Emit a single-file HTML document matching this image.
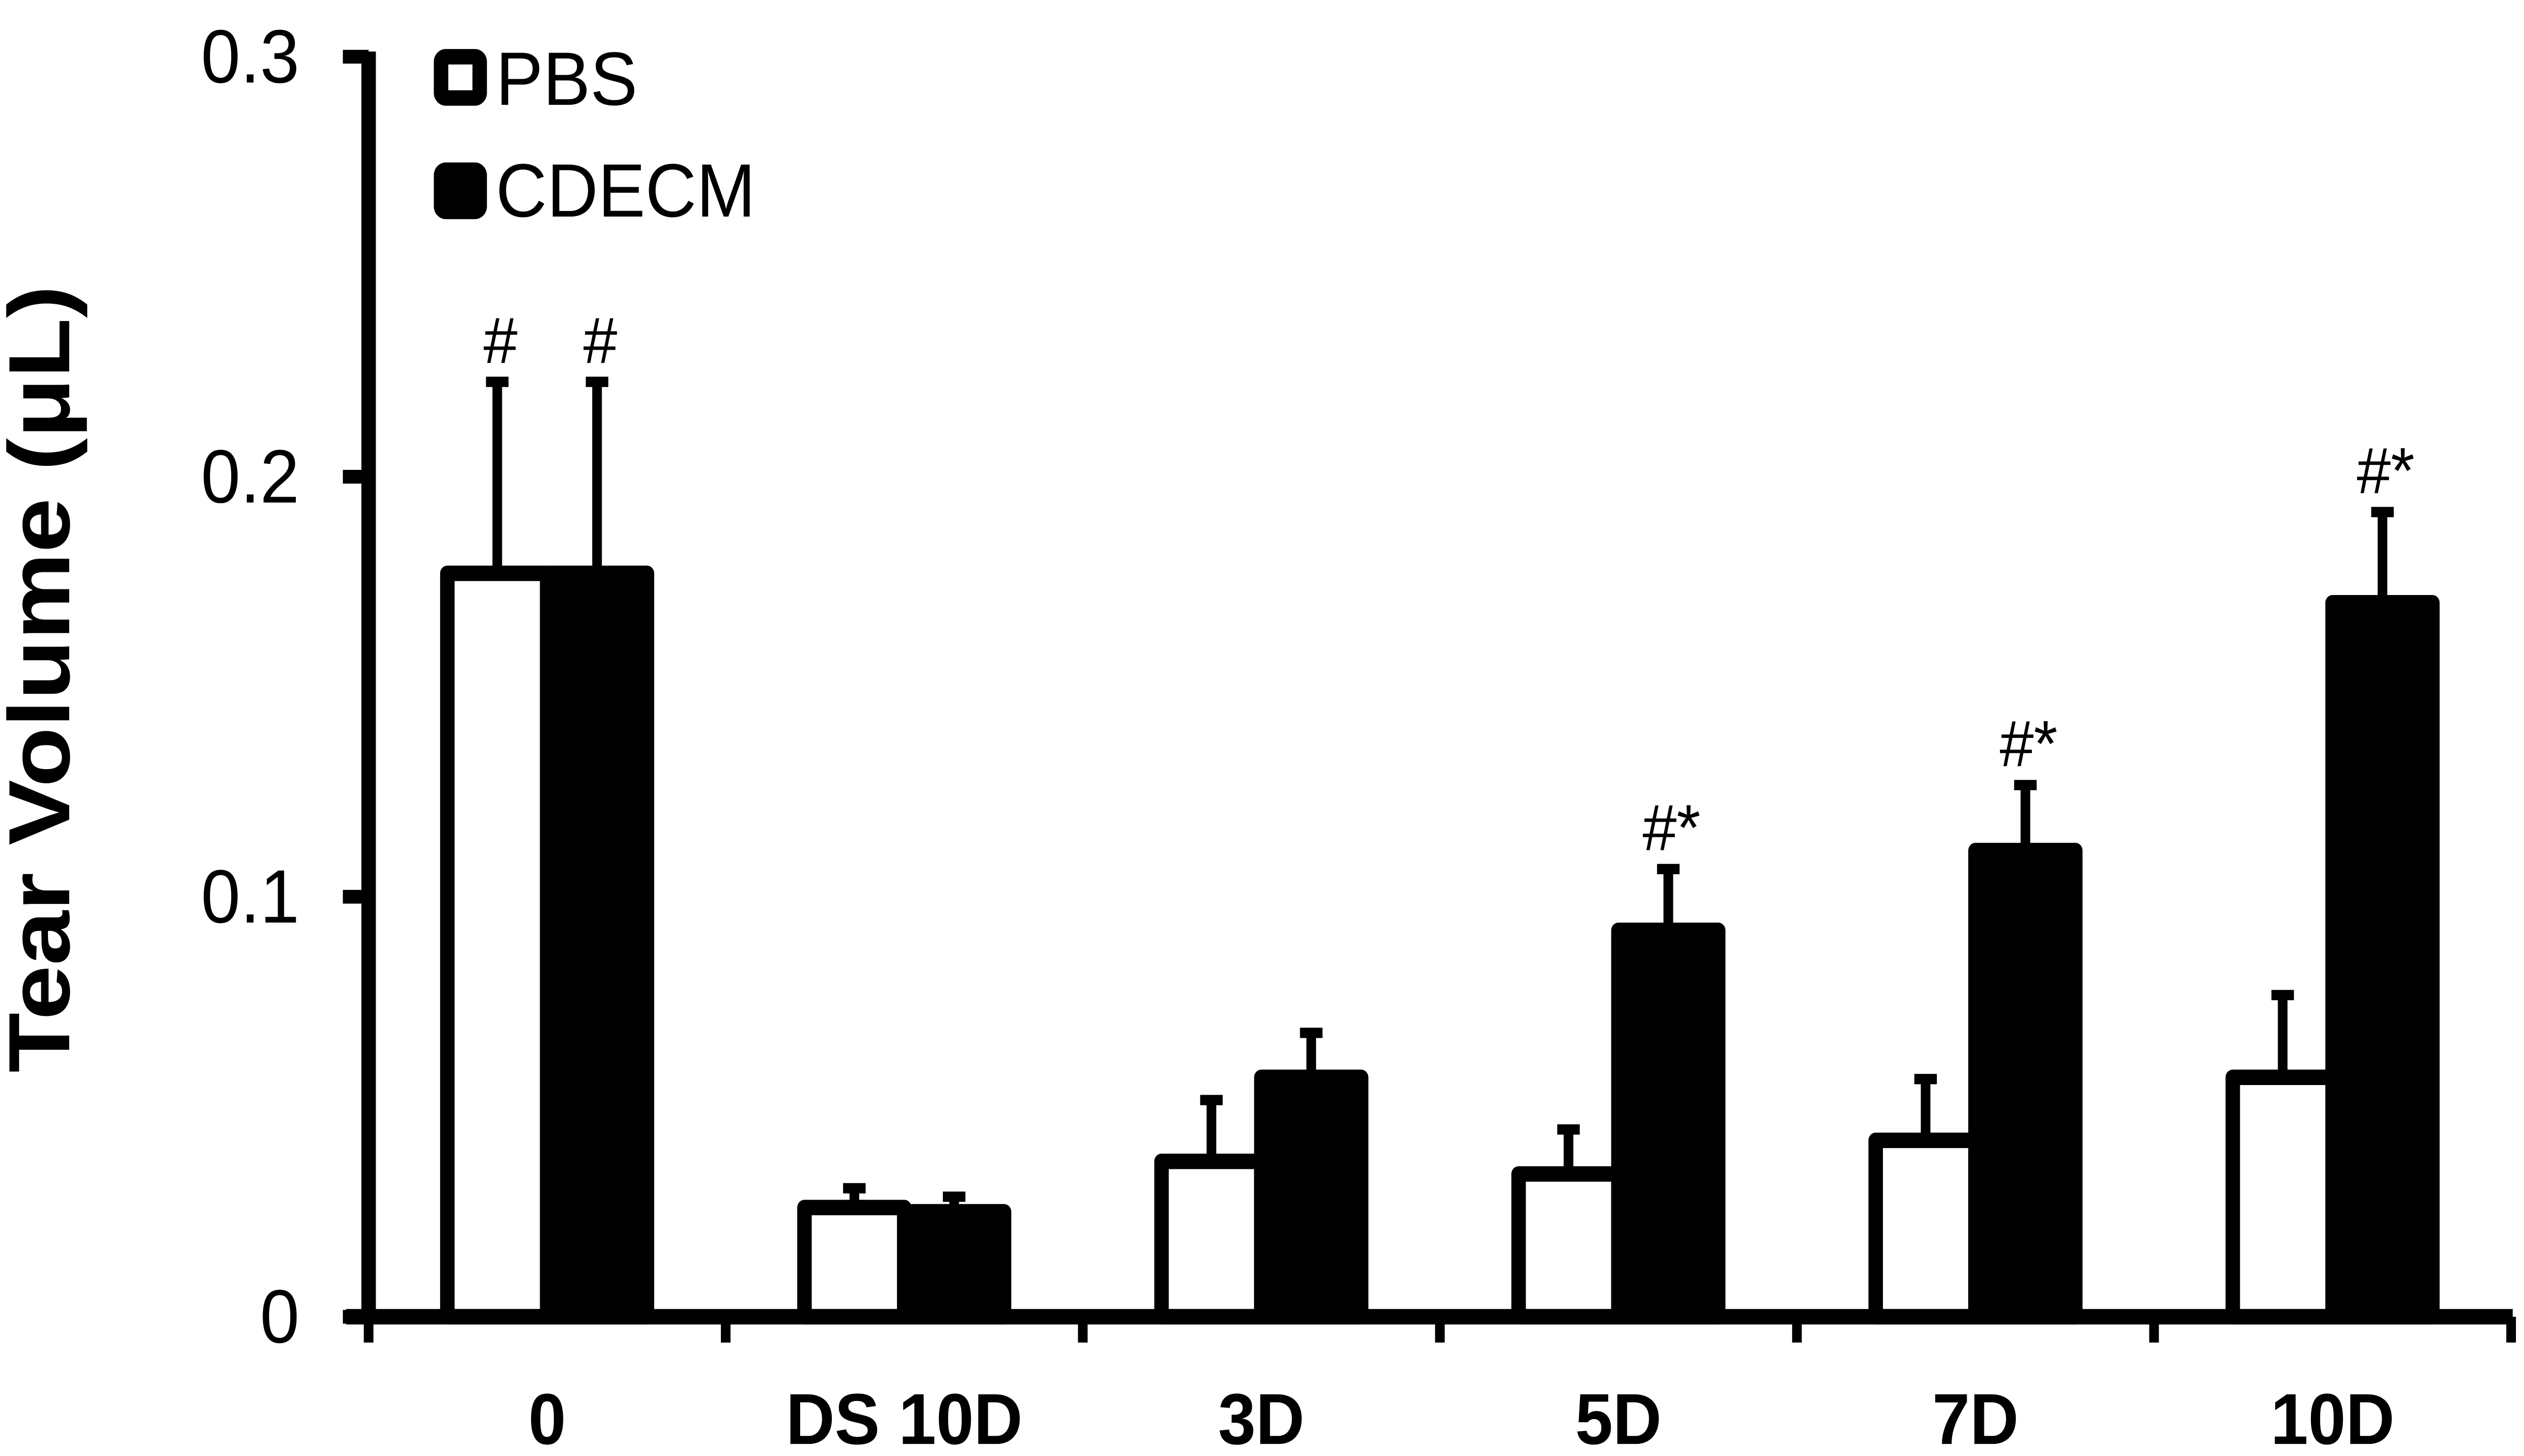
<!DOCTYPE html>
<html><head><meta charset="utf-8"><style>
html,body{margin:0;padding:0;background:#fff;width:100%;height:100%;overflow:hidden}
svg{display:block;overflow:hidden;width:100vw;height:100vh}
text{font-family:"Liberation Sans",Arial,sans-serif;fill:#000}
</style></head><body>
<svg id="chart" viewBox="0 0 1568 847" preserveAspectRatio="none" xmlns="http://www.w3.org/2000/svg">
<g id="bars"></g>
<g id="axes"></g>
<text transform="translate(43,395) rotate(-90)" text-anchor="middle" font-size="54" font-weight="bold" textLength="458" lengthAdjust="spacingAndGlyphs">Tear Volume (μL)</text>
<g>
<rect x="274" y="33" width="24" height="24" rx="3" fill="#fff" stroke="#000" stroke-width="9"/>
<text x="308" y="61" font-size="44">PBS</text>
<rect x="274" y="99" width="24" height="24" rx="3" fill="#000" stroke="#000" stroke-width="9"/>
<text x="308" y="126" font-size="44">CDECM</text>
</g>
</svg>
<script>
const categories = ["0","DS 10D","3D","5D","7D","10D"];
const pbsValues = [0.177,0.026,0.037,0.034,0.042,0.057];
const pbsErrors = [0.046,0.005,0.015,0.011,0.015,0.020];
const cdecmValues = [0.177,0.025,0.057,0.092,0.111,0.170];
const cdecmErrors = [0.046,0.004,0.011,0.015,0.016,0.022];
const pbsMarks = ["#","","","","",""];
const cdecmMarks = ["#","","","#*","#*","#*"];
const yTicks = [0,0.1,0.2,0.3];
const yTickLabels = ["0","0.1","0.2","0.3"];

const NS="http://www.w3.org/2000/svg";
const X0=229, X1=1560, Y0=766, Y1=33, YMAX=0.3;
const band=(X1-X0)/categories.length;
const xc=i=>X0+band*(i+0.5);
const y=v=>Y0-(v/YMAX)*(Y0-Y1);
const BW=66;
function mk(tag,attrs,parent){const e=document.createElementNS(NS,tag);for(const k in attrs)e.setAttribute(k,attrs[k]);parent.appendChild(e);return e;}
const bars=document.getElementById('bars'), axes=document.getElementById('axes');

categories.forEach((c,i)=>{
  const series=[[pbsValues[i],pbsErrors[i],'#fff',-BW,pbsMarks[i],'pbs'],[cdecmValues[i],cdecmErrors[i],'#000',0,cdecmMarks[i],'cdecm']];
  series.forEach(([v,e,fill,off,mark,nm])=>{
    const bx=xc(i)+off+ (off<0?4:0), w=BW-4;
    const cx=bx+w/2;
    const l=mk('line',{x1:cx,x2:cx,y1:y(v),y2:y(v+e),stroke:'#000','stroke-width':6},bars);
    
    
    const cap=mk('line',{x1:cx-7,x2:cx+7,y1:y(v+e)+1,y2:y(v+e)+1,stroke:'#000','stroke-width':6},bars);
    
    
    const r=mk('rect',{x:bx,y:y(v),width:w,height:Y0-y(v),fill:fill,stroke:'#000','stroke-width':9,'stroke-linejoin':'round'},bars);
    
    
    if(mark){
      const t=mk('text',{x:cx+2,y:y(v+e)-10,'text-anchor':'middle','font-size':38},bars);
      t.textContent=mark;
      
      
    }
  });
  const lab=mk('text',{x:xc(i),y:840,'text-anchor':'middle','font-size':42,'font-weight':'bold'},axes);
  lab.textContent=c;
  
  
});
for(let i=0;i<=categories.length;i++){
  const t=mk('line',{x1:X0+band*i,x2:X0+band*i,y1:Y0,y2:781,stroke:'#000','stroke-width':6},axes);
  
  
}
yTicks.forEach((v,i)=>{
  const t=mk('line',{x1:213,x2:X0,y1:y(v),y2:y(v),stroke:'#000','stroke-width':8},axes);
  
  
  const l=mk('text',{x:186,y:y(v)+15,'text-anchor':'end','font-size':44},axes);
  l.textContent=yTickLabels[i];
  
  
});
const ya=mk('line',{x1:X0,x2:X0,y1:Y1-3,y2:Y0+4,stroke:'#000','stroke-width':9},axes);


const xa=mk('line',{x1:215,x2:X1+1,y1:Y0,y2:Y0,stroke:'#000','stroke-width':9},axes);


</script>
</body></html>
